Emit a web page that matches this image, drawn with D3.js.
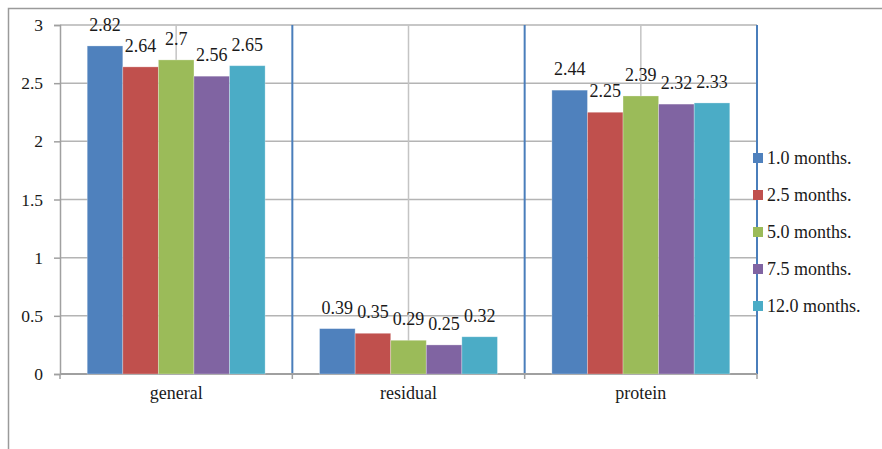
<!DOCTYPE html>
<html>
<head>
<meta charset="utf-8">
<script src="https://cdn.jsdelivr.net/npm/d3@7"></script>
<style>
  html, body { margin: 0; padding: 0; background: #fff; }
</style>
</head>
<body>
<svg id="chart" width="882" height="449"></svg>
<script>
// Categories and series
const categories = ["general", "residual", "protein"];
const seriesNames = ["1.0 months.", "2.5 months.", "5.0 months.", "7.5 months.", "12.0 months."];
const m1_0 = [2.82, 0.39, 2.44];
const m2_5 = [2.64, 0.35, 2.25];
const m5_0 = [2.70, 0.29, 2.39];
const m7_5 = [2.56, 0.25, 2.32];
const m12_0 = [2.65, 0.32, 2.33];
const seriesValues = [m1_0, m2_5, m5_0, m7_5, m12_0];
const yTicks = [0, 0.5, 1, 1.5, 2, 2.5, 3];
const colors = ["#4F81BD", "#C0504D", "#9BBB59", "#8064A2", "#4BACC6"];

const FONT = "'Liberation Serif', Tinos, 'Times New Roman', Times, 'DejaVu Serif', serif";
const TEXT = "#1a1a1a";

const svg = d3.select("#chart");

// outer frame (top and left edges)
svg.append("path")
  .attr("d", "M8.5,449 L8.5,8.5 L882,8.5")
  .attr("fill", "none")
  .attr("stroke", "#9a9a9a")
  .attr("stroke-width", 1.5);

const plot = { left: 60, right: 757, top: 25, bottom: 374 };

const x = d3.scaleBand().domain(categories).range([plot.left, plot.right]).paddingInner(0).paddingOuter(0);
const inner = d3.scaleBand().domain(d3.range(seriesNames.length))
  .range([0, x.bandwidth()]).paddingOuter(0.765).paddingInner(0);
const y = d3.scaleLinear().domain([0, 3]).range([plot.bottom, plot.top]);

// horizontal gridlines
svg.append("g").selectAll("line").data(yTicks.filter(t => t > 0)).join("line")
  .attr("x1", plot.left).attr("x2", plot.right)
  .attr("y1", d => y(d)).attr("y2", d => y(d))
  .attr("stroke", "#b4b4b4").attr("stroke-width", 1.5);

// vertical gridlines at category centres
svg.append("g").selectAll("line").data(categories).join("line")
  .attr("x1", d => x(d) + x.bandwidth() / 2).attr("x2", d => x(d) + x.bandwidth() / 2)
  .attr("y1", plot.top).attr("y2", plot.bottom)
  .attr("stroke", "#c4c4c4").attr("stroke-width", 1.5);

// category separators
svg.append("g").selectAll("line").data(categories).join("line")
  .attr("x1", d => x(d) + x.bandwidth()).attr("x2", d => x(d) + x.bandwidth())
  .attr("y1", plot.top).attr("y2", plot.bottom)
  .attr("stroke", "#4a7ebb").attr("stroke-width", 2);

// y axis
const yAxis = d3.axisLeft(y).tickValues(yTicks).tickSize(6).tickPadding(11).tickFormat(d3.format("~g"));
const gy = svg.append("g").attr("transform", `translate(${plot.left},0)`).call(yAxis)
  .attr("font-family", FONT).attr("font-size", 17.5);
gy.select(".domain").attr("stroke", "#a0a0a0").attr("stroke-width", 1.5);
gy.selectAll(".tick line").attr("stroke", "#a0a0a0").attr("stroke-width", 1.5);
gy.selectAll(".tick text").attr("fill", TEXT);

// x axis baseline and boundary ticks
const boundaries = [plot.left].concat(categories.map(c => x(c) + x.bandwidth()));
svg.append("line")
  .attr("x1", plot.left).attr("x2", plot.right)
  .attr("y1", plot.bottom).attr("y2", plot.bottom)
  .attr("stroke", "#a0a0a0").attr("stroke-width", 2);
svg.append("g").selectAll("line").data(boundaries).join("line")
  .attr("x1", d => d).attr("x2", d => d)
  .attr("y1", plot.bottom).attr("y2", plot.bottom + 5)
  .attr("stroke", "#a0a0a0").attr("stroke-width", 1.5);

// category labels
svg.append("g").attr("font-family", FONT).attr("font-size", 18).attr("fill", TEXT)
  .selectAll("text").data(categories).join("text")
  .attr("x", d => x(d) + x.bandwidth() / 2)
  .attr("y", 399)
  .attr("text-anchor", "middle")
  .text(d => d);

// bars
const rows = [];
categories.forEach((c, ci) => {
  seriesValues.forEach((vals, si) => rows.push({ cat: c, s: si, v: vals[ci] }));
});

svg.append("g").selectAll("rect").data(rows).join("rect")
  .attr("x", d => x(d.cat) + inner(d.s))
  .attr("y", d => y(d.v))
  .attr("width", inner.bandwidth())
  .attr("height", d => y(0) - y(d.v))
  .attr("fill", d => colors[d.s])
  .attr("stroke", "rgba(255,255,255,0.35)")
  .attr("stroke-width", 0.8);

// value labels
svg.append("g").attr("font-family", FONT).attr("font-size", 18).attr("fill", TEXT)
  .selectAll("text").data(rows).join("text")
  .attr("x", d => x(d.cat) + inner(d.s) + inner.bandwidth() / 2)
  .attr("y", d => y(d.v) - 15)
  .attr("text-anchor", "middle")
  .text(d => d3.format("~g")(d.v));

// legend
const legend = svg.append("g").attr("font-family", FONT).attr("font-size", 18).attr("fill", TEXT)
  .selectAll("g").data(seriesNames).join("g")
  .attr("transform", (d, i) => `translate(753,${153 + i * 37})`);
legend.append("rect").attr("width", 10).attr("height", 10).attr("fill", (d, i) => colors[i]);
legend.append("text").attr("x", 14).attr("y", 11).text(d => d);
</script>
</body>
</html>
